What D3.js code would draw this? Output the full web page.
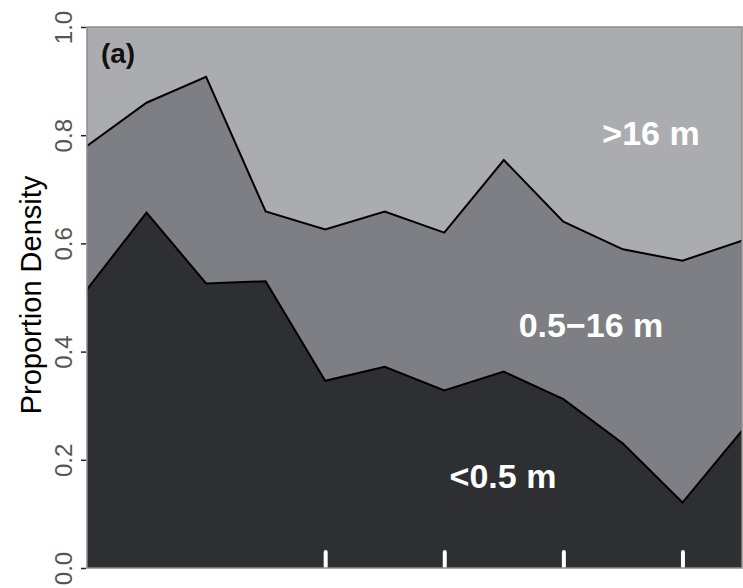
<!DOCTYPE html>
<html>
<head>
<meta charset="utf-8">
<script src="https://cdn.jsdelivr.net/npm/d3@7"></script>
<style>
  body { margin: 0; background: #fff; }
  svg { display: block; font-family: "Liberation Sans", Arial, sans-serif; }
</style>
</head>
<body>
<div class="chart"></div>
<script>
// Data: share of each size class per interval
var steps = [1, 2, 3, 4, 5, 6, 7, 8, 9, 10, 11, 12];
var small = [0.515, 0.657, 0.526, 0.530, 0.346, 0.372, 0.328, 0.363, 0.312, 0.230, 0.121, 0.254];
var medium = [0.265, 0.203, 0.382, 0.129, 0.280, 0.287, 0.292, 0.391, 0.328, 0.359, 0.447, 0.351];
var large = [0.220, 0.140, 0.092, 0.341, 0.374, 0.341, 0.380, 0.246, 0.360, 0.411, 0.432, 0.395];
var classNames = ["<0.5 m", "0.5\u221216 m", ">16 m"];
var yTicks = [0, 0.2, 0.4, 0.6, 0.8, 1.0];
var xTicks = [5, 7, 9, 11];

var svgWidth = 743;
var svgHeight = 588;
var margin = { top: 27, right: 1, bottom: 20, left: 87 };
var width = svgWidth - margin.left - margin.right;
var height = svgHeight - margin.top - margin.bottom;

var svg = d3.select(".chart")
  .append("svg")
  .attr("width", svgWidth)
  .attr("height", svgHeight);
var chart = svg.append("g")
  .attr("transform", "translate(" + margin.left + "," + margin.top + ")");

var table = steps.map(function(s, i) {
  return { step: s, small: small[i], medium: medium[i], large: large[i] };
});

var x = d3.scaleLinear().domain([1, 12]).range([0, width]);
var y = d3.scaleLinear().domain([0, 1]).range([height, 0]);

var stack = d3.stack().keys(["small", "medium", "large"]);
var layers = stack(table);
var fills = ["#2e2f32", "#7e7f84", "#abacb0"];

var area = d3.area()
  .x(function(d) { return x(d.data.step); })
  .y0(function(d) { return y(d[0]); })
  .y1(function(d) { return y(d[1]); });

var line = d3.line()
  .x(function(d) { return x(d.data.step); })
  .y(function(d) { return y(d[1]); });

chart.append("clipPath").attr("id", "clip")
  .append("rect").attr("width", width).attr("height", height);

var plot = chart.append("g").attr("clip-path", "url(#clip)");

plot.selectAll("path.area")
  .data(layers)
  .enter().append("path")
    .attr("class", "area")
    .attr("d", area)
    .attr("fill", function(d, i) { return fills[i]; });

// boundaries between classes
plot.selectAll("path.edge")
  .data(layers.slice(0, 2))
  .enter().append("path")
    .attr("class", "edge")
    .attr("d", line)
    .attr("fill", "none")
    .attr("stroke", "#000")
    .attr("stroke-width", 2)
    .attr("stroke-linejoin", "miter");

// white ticks inside the bottom
var bottomAxis = d3.axisBottom(x).tickValues(xTicks).tickSize(-16).tickFormat("");
var xg = chart.append("g")
  .attr("transform", "translate(0," + height + ")")
  .call(bottomAxis);
xg.select(".domain").remove();
xg.selectAll("line")
  .attr("stroke", "#fff")
  .attr("stroke-width", 4)
  .attr("stroke-linecap", "round")
  .attr("y1", -1);

// frame
chart.append("rect")
  .attr("width", width)
  .attr("height", height)
  .attr("fill", "none")
  .attr("stroke", "#8c8c8c")
  .attr("stroke-width", 1.5);

// y axis
var leftAxis = d3.axisLeft(y).tickValues(yTicks).tickSize(5).tickFormat(d3.format(".1f"));
var yg = chart.append("g").call(leftAxis);
yg.select(".domain").remove();
yg.selectAll("line").attr("stroke", "#222").attr("stroke-width", 1.5).attr("transform", "translate(-1,0)");
yg.selectAll("text")
  .attr("x", 0)
  .attr("dy", null)
  .attr("transform", "translate(-24,0) rotate(-90)")
  .attr("text-anchor", "middle")
  .attr("dominant-baseline", "central")
  .attr("font-size", "24px")
  .attr("fill", "#555");

// axis title
chart.append("text")
  .attr("transform", "translate(" + (31 - margin.left) + "," + (295 - margin.top) + ") rotate(-90)")
  .attr("text-anchor", "middle")
  .attr("dominant-baseline", "central")
  .attr("font-size", "29px")
  .attr("fill", "#000")
  .text("Proportion Density");

// panel label
chart.append("text")
  .attr("x", 118 - margin.left)
  .attr("y", 63 - margin.top)
  .attr("text-anchor", "middle")
  .attr("font-size", "28px")
  .attr("font-weight", "bold")
  .attr("fill", "#111")
  .text("(a)");

// class labels
var labelPos = [[503, 488], [591, 337], [651, 145]];
chart.selectAll("text.cls")
  .data(classNames)
  .enter().append("text")
    .attr("class", "cls")
    .attr("x", function(d, i) { return labelPos[i][0] - margin.left; })
    .attr("y", function(d, i) { return labelPos[i][1] - margin.top; })
    .attr("text-anchor", "middle")
    .attr("font-size", "34px")
    .attr("font-weight", "bold")
    .attr("fill", "#fff")
    .text(function(d) { return d; });
</script>
</body>
</html>
